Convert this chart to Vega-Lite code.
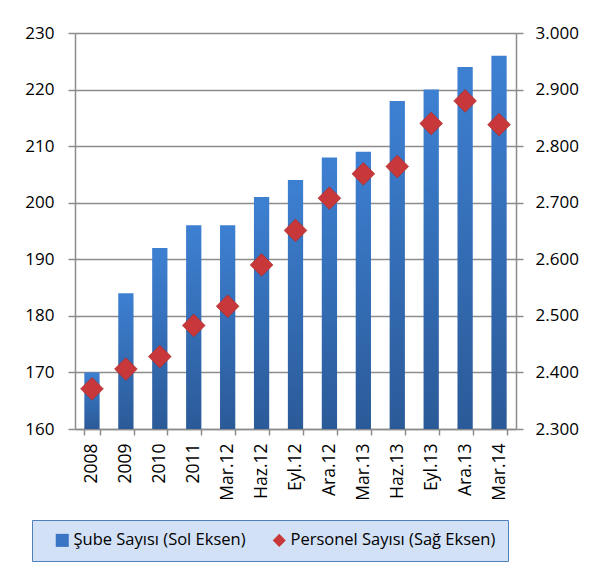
{
  "$schema": "https://vega.github.io/schema/vega-lite/v6.json",
  "width": 441,
  "height": 396,
  "autosize": "none",
  "padding": {"left": 75, "top": 33, "right": 81, "bottom": 149},
  "background": "white",
  "data": {
    "values": [
      {"period": "2008", "series": "Şube Sayısı (Sol Eksen)", "value": 170},
      {"period": "2009", "series": "Şube Sayısı (Sol Eksen)", "value": 184},
      {"period": "2010", "series": "Şube Sayısı (Sol Eksen)", "value": 192},
      {"period": "2011", "series": "Şube Sayısı (Sol Eksen)", "value": 196},
      {"period": "Mar.12", "series": "Şube Sayısı (Sol Eksen)", "value": 196},
      {"period": "Haz.12", "series": "Şube Sayısı (Sol Eksen)", "value": 201},
      {"period": "Eyl.12", "series": "Şube Sayısı (Sol Eksen)", "value": 204},
      {"period": "Ara.12", "series": "Şube Sayısı (Sol Eksen)", "value": 208},
      {"period": "Mar.13", "series": "Şube Sayısı (Sol Eksen)", "value": 209},
      {"period": "Haz.13", "series": "Şube Sayısı (Sol Eksen)", "value": 218},
      {"period": "Eyl.13", "series": "Şube Sayısı (Sol Eksen)", "value": 220},
      {"period": "Ara.13", "series": "Şube Sayısı (Sol Eksen)", "value": 224},
      {"period": "Mar.14", "series": "Şube Sayısı (Sol Eksen)", "value": 226},
      {"period": "2008", "series": "Personel Sayısı (Sağ Eksen)", "value": 2371},
      {"period": "2009", "series": "Personel Sayısı (Sağ Eksen)", "value": 2406},
      {"period": "2010", "series": "Personel Sayısı (Sağ Eksen)", "value": 2428},
      {"period": "2011", "series": "Personel Sayısı (Sağ Eksen)", "value": 2483},
      {"period": "Mar.12", "series": "Personel Sayısı (Sağ Eksen)", "value": 2517},
      {"period": "Haz.12", "series": "Personel Sayısı (Sağ Eksen)", "value": 2590},
      {"period": "Eyl.12", "series": "Personel Sayısı (Sağ Eksen)", "value": 2651},
      {"period": "Ara.12", "series": "Personel Sayısı (Sağ Eksen)", "value": 2708},
      {"period": "Mar.13", "series": "Personel Sayısı (Sağ Eksen)", "value": 2751},
      {"period": "Haz.13", "series": "Personel Sayısı (Sağ Eksen)", "value": 2764},
      {"period": "Eyl.13", "series": "Personel Sayısı (Sağ Eksen)", "value": 2840},
      {"period": "Ara.13", "series": "Personel Sayısı (Sağ Eksen)", "value": 2880},
      {"period": "Mar.14", "series": "Personel Sayısı (Sağ Eksen)", "value": 2838}
    ]
  },
  "encoding": {
    "x": {
      "field": "period",
      "type": "nominal",
      "sort": null,
      "scale": {"paddingInner": 0.55, "paddingOuter": 0.275},
      "axis": {
        "title": null,
        "labelAngle": -90,
        "labelPadding": 8,
        "labelFontSize": 17.5,
        "tickBand": "extent",
        "tickSize": 6,
        "grid": false
      }
    }
  },
  "layer": [
    {
      "transform": [{"filter": "datum.series === 'Şube Sayısı (Sol Eksen)'"}],
      "mark": {
        "type": "bar",
        "fill": {
          "gradient": "linear",
          "x1": 0, "y1": 0, "x2": 0, "y2": 1,
          "stops": [
            {"offset": 0, "color": "#3d80d2"},
            {"offset": 1, "color": "#2b5a98"}
          ]
        }
      },
      "encoding": {
        "y": {
          "field": "value",
          "type": "quantitative",
          "scale": {"domain": [160, 230], "zero": false, "nice": false},
          "axis": {
            "title": null,
            "orient": "left",
            "values": [160, 170, 180, 190, 200, 210, 220, 230],
            "grid": true,
            "tickSize": 7,
            "labelPadding": 14
          }
        },
        "y2": {"datum": 160}
      }
    },
    {
      "transform": [{"filter": "datum.series === 'Personel Sayısı (Sağ Eksen)'"}],
      "mark": {"type": "point", "filled": true, "size": 520, "opacity": 1, "stroke": "#a52a2a", "strokeWidth": 0.6},
      "encoding": {
        "y": {
          "field": "value",
          "type": "quantitative",
          "scale": {"domain": [2300, 3000], "zero": false, "nice": false},
          "axis": {
            "title": null,
            "orient": "right",
            "values": [2300, 2400, 2500, 2600, 2700, 2800, 2900, 3000],
            "labelExpr": "replace(format(datum.value, ','), ',', '.')",
            "grid": false,
            "tickSize": 7,
            "labelPadding": 12
          }
        },
        "color": {
          "field": "series",
          "type": "nominal",
          "scale": {
            "domain": ["Şube Sayısı (Sol Eksen)", "Personel Sayısı (Sağ Eksen)"],
            "range": ["#3a75c4", "#c8383a"]
          },
          "legend": {
            "title": null,
            "orient": "none",
            "direction": "horizontal",
            "legendX": -43,
            "legendY": 487,
            "padding": 12,
            "columnPadding": 15,
            "symbolSize": 170,
            "labelFontSize": 16.5,
            "labelFont": "Open Sans",
            "labelColor": "#000000",
            "labelOffset": 3,
            "labelLimit": 300,
            "fillColor": "#d2e1f6",
            "strokeColor": "#4f81bd",
            "symbolStrokeWidth": 0,
            "symbolOffset": 10
          }
        },
        "shape": {
          "field": "series",
          "type": "nominal",
          "scale": {
            "domain": ["Şube Sayısı (Sol Eksen)", "Personel Sayısı (Sağ Eksen)"],
            "range": ["square", "diamond"]
          },
          "legend": null
        }
      }
    }
  ],
  "resolve": {"scale": {"y": "independent"}},
  "config": {
    "view": {"stroke": null},
    "axis": {
      "labelFont": "Open Sans",
      "labelFontSize": 17,
      "labelColor": "#000000",
      "domainColor": "#8c8c8c",
      "domainWidth": 1.5,
      "tickColor": "#8c8c8c",
      "tickWidth": 1.5,
      "gridColor": "#8c8c8c",
      "gridWidth": 1.5
    }
  }
}
